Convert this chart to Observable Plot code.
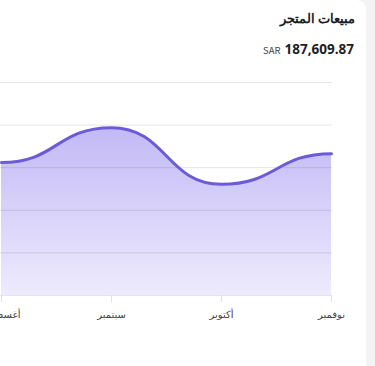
<!DOCTYPE html>
<html><head><meta charset="utf-8">
<script src="https://cdn.jsdelivr.net/npm/d3@7"></script>
<script src="https://cdn.jsdelivr.net/npm/@observablehq/plot@0.6"></script>
<style>
html,body{margin:0;padding:0;width:375px;height:366px;overflow:hidden;background:#f3f3f6;font-family:"Noto Sans CJK SC","Noto Sans",sans-serif;}
#card{position:absolute;left:-20px;top:0;width:386px;height:380px;background:#fff;border-top-right-radius:9px;}
#title{position:absolute;right:20px;top:8px;font-size:13px;font-weight:600;color:#1e1e24;direction:rtl;}
#amount{position:absolute;right:21px;top:35px;color:#1e1e24;white-space:nowrap;}
#amount .cur{font-size:9.5px;color:#444;margin-right:4px;}
#amount .num{font-family:"Open Sans",sans-serif;font-size:13.5px;font-weight:700;}
#chart{position:absolute;left:0;top:70px;}
</style></head>
<body>
<div id="card"></div>
<div id="title">مبيعات المتجر</div>
<div id="amount"><span class="cur">SAR</span><span class="num">187,609.87</span></div>
<div id="chart"></div>
<script>
const months = ["أغسطس", "سبتمبر", "أكتوبر", "نوفمبر"];
const sales = [31200, 39400, 26100, 33300];
const yTicks = [0, 10000, 20000, 30000, 40000, 50000];

const data = months.map((m, i) => ({month: m, value: sales[i]}));

const defs = () => {
  const d = d3.create("svg:defs");
  const g = d.append("linearGradient").attr("id", "areaGrad").attr("x1", 0).attr("y1", 0).attr("x2", 0).attr("y2", 1);
  g.append("stop").attr("offset", "0%").attr("stop-color", "#c2b9f6");
  g.append("stop").attr("offset", "100%").attr("stop-color", "#eeebfd");
  return d.node();
};

const plot = Plot.plot({
  width: 366,
  height: 265,
  marginLeft: 0,
  marginRight: 34,
  marginTop: 12,
  marginBottom: 40,
  style: {fontFamily: "'Noto Sans CJK SC', 'DejaVu Sans', sans-serif", fontSize: "10px", overflow: "visible"},
  x: {type: "point", domain: months, padding: 0},
  y: {domain: [0, 50000]},
  marks: [
    defs,
    Plot.areaY(data, {x: "month", y: "value", curve: "bump-x", fill: "url(#areaGrad)"}),
    Plot.gridY(yTicks, {stroke: "#000", strokeOpacity: 0.1}),
    Plot.lineY(data, {x: "month", y: "value", curve: "bump-x", stroke: "#6c5bd9", strokeWidth: 3}),
    Plot.axisX({tickSize: 7, stroke: "#e0e0e4", fill: "#444", tickPadding: 8, label: null}),
    Plot.axisY({ticks: [], label: null})
  ]
});
document.getElementById("chart").appendChild(plot);
</script>
</body></html>
